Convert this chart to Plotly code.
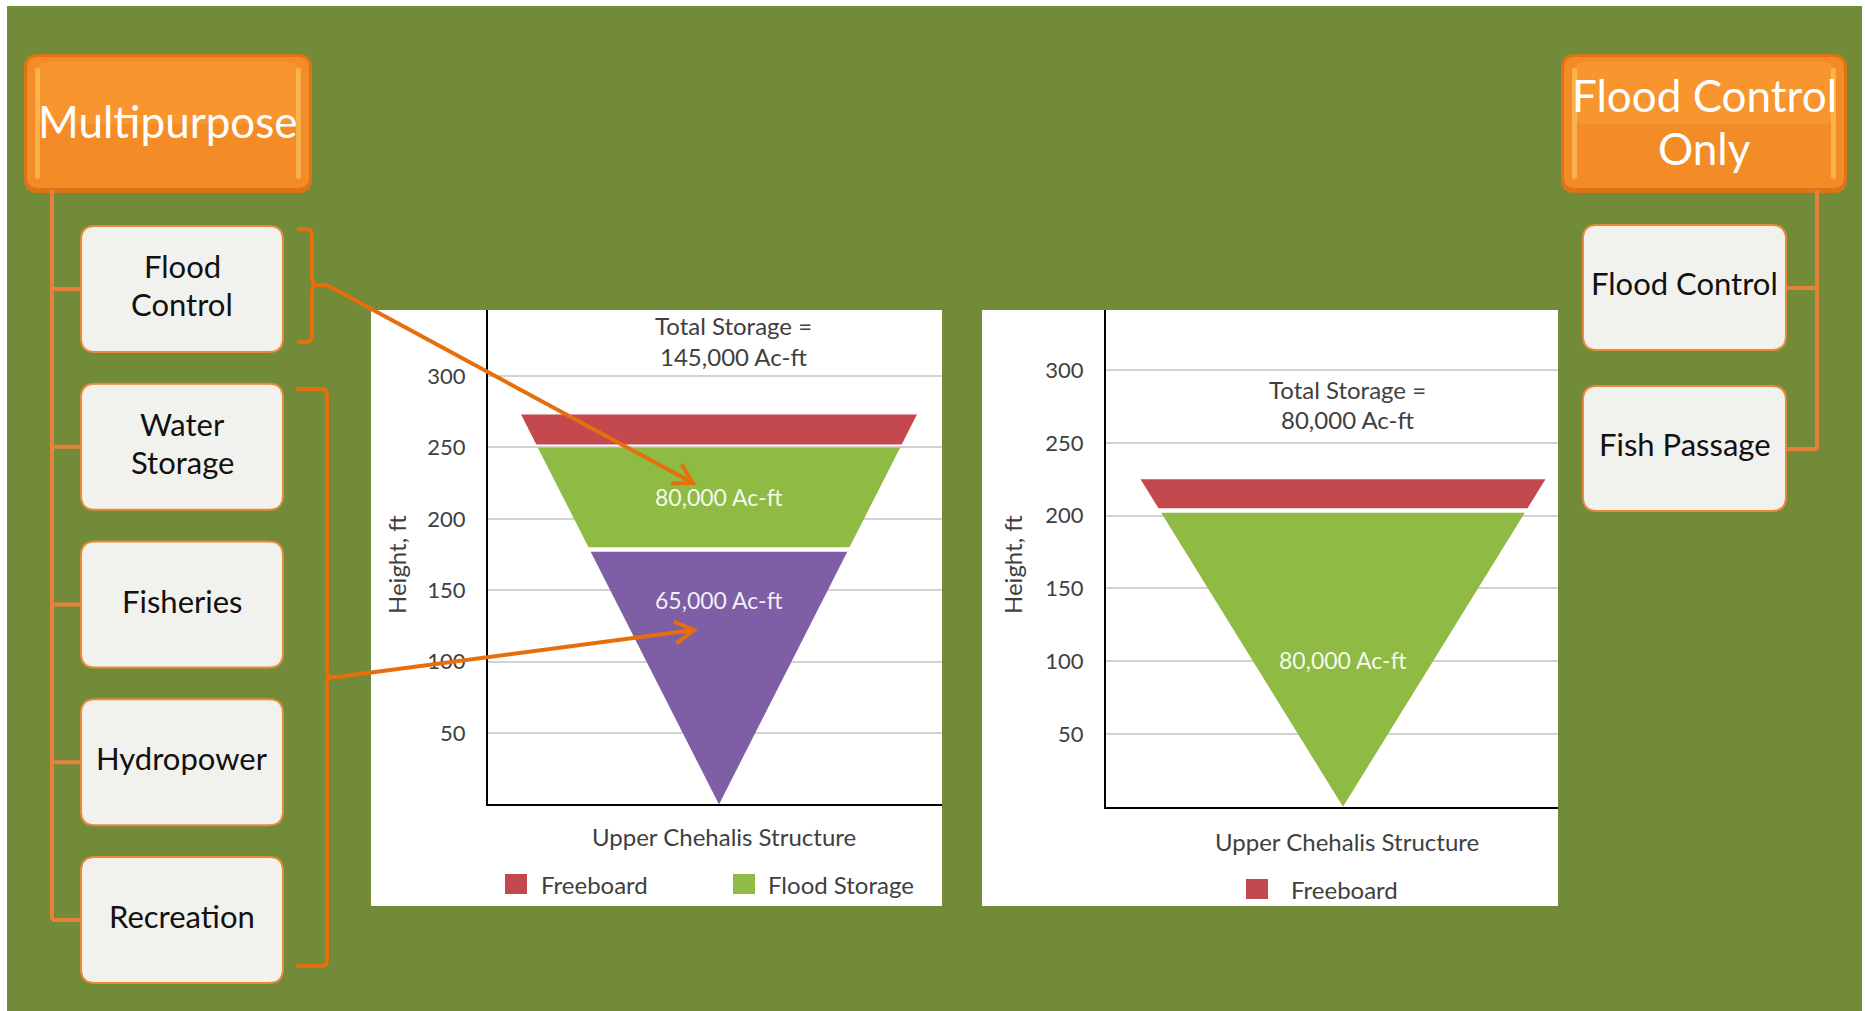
import math
import plotly.graph_objects as go

# ---------------- data ----------------
height_ticks = [50, 100, 150, 200, 250, 300]

# Multipurpose dam: storage zones by elevation (ft)
multi_zones = ["Freeboard", "Flood Storage", "Water Storage"]
multi_bottom = [252, 180, 0]
multi_top = [273, 250, 177]
multi_volumes = ["", "80,000 Ac-ft", "65,000 Ac-ft"]
multi_total = "145,000 Ac-ft"

# Flood-control-only dam: storage zones by elevation (ft)
flood_zones = ["Freeboard", "Flood Storage"]
flood_bottom = [205, 0]
flood_top = [225, 202]
flood_volumes = ["", "80,000 Ac-ft"]
flood_total = "80,000 Ac-ft"

multipurpose_uses = ["Flood<br>Control", "Water<br>Storage", "Fisheries", "Hydropower", "Recreation"]
flood_only_uses = ["Flood Control", "Fish Passage"]
structure_name = "Upper Chehalis Structure"

# ---------------- styling ----------------
W, H = 1865, 1011
FONT = "Lato"
BG_GREEN = "#718B38"
ARROW = "#E66F0C"
CONNECT = "#E7813A"
TEXT_GRAY = "#404040"
ZONE_COLORS = {"Freeboard": "#C4494F", "Flood Storage": "#8FBB45", "Water Storage": "#7E5FA6"}


def fx(p):
    return p / W


def fy(p):
    return 1 - p / H


def pt(x, y):
    return f"{fx(x):.5f},{fy(y):.5f}"


def rrect_path(x0, y0, x1, y1, r):
    return (f"M{pt(x0 + r, y0)} L{pt(x1 - r, y0)} Q{pt(x1, y0)} {pt(x1, y0 + r)} "
            f"L{pt(x1, y1 - r)} Q{pt(x1, y1)} {pt(x1 - r, y1)} L{pt(x0 + r, y1)} "
            f"Q{pt(x0, y1)} {pt(x0, y1 - r)} L{pt(x0, y0 + r)} Q{pt(x0, y0)} {pt(x0 + r, y0)} Z")


shapes = []
annotations = []


def rect(x0, y0, x1, y1, color, layer="below"):
    shapes.append(dict(type="rect", xref="paper", yref="paper", x0=fx(x0), x1=fx(x1),
                       y0=fy(y1), y1=fy(y0), fillcolor=color, line=dict(width=0), layer=layer))


def path(d, color=None, fill=None, width=0, layer="above"):
    shapes.append(dict(type="path", xref="paper", yref="paper", path=d, layer=layer,
                       fillcolor=fill if fill else "rgba(0,0,0,0)",
                       line=dict(color=color if color else "rgba(0,0,0,0)", width=width)))


def seg(x0, y0, x1, y1, color, width):
    shapes.append(dict(type="line", xref="paper", yref="paper", x0=fx(x0), y0=fy(y0),
                       x1=fx(x1), y1=fy(y1), line=dict(color=color, width=width), layer="above"))


def text(x, y, s, size, color, xanchor="center", angle=0):
    annotations.append(dict(xref="paper", yref="paper", x=fx(x), y=fy(y), text=s,
                            showarrow=False, xanchor=xanchor, yanchor="middle", textangle=angle,
                            font=dict(family=FONT, size=size, color=color)))


def text_lines(x, y, s, size, color, spacing):
    # multi-line label with explicit line pitch, centred on (x, y)
    lines = s.split("<br>")
    first = y - spacing * (len(lines) - 1) / 2
    for k, line in enumerate(lines):
        text(x, first + k * spacing, line, size, color)


def arrow(x0, y0, x1, y1, length=22, spread=30):
    seg(x0, y0, x1, y1, ARROW, 4)
    back = math.atan2(y1 - y0, x1 - x0) + math.pi
    a1, a2 = back + math.radians(spread), back - math.radians(spread)
    p1 = (x1 + length * math.cos(a1), y1 + length * math.sin(a1))
    p2 = (x1 + length * math.cos(a2), y1 + length * math.sin(a2))
    path(f"M{pt(*p1)} L{pt(x1, y1)} L{pt(*p2)}", color=ARROW, width=4)


def bracket(xe, xv, xt, ytop, ymid, ybot, r=6):
    d = (f"M{pt(xe, ytop)} L{pt(xv - r, ytop)} Q{pt(xv, ytop)} {pt(xv, ytop + r)} "
         f"L{pt(xv, ymid - r)} Q{pt(xv, ymid)} {pt(xv + r, ymid)} L{pt(xt, ymid)} "
         f"M{pt(xv + r, ymid)} Q{pt(xv, ymid)} {pt(xv, ymid + r)} "
         f"L{pt(xv, ybot - r)} Q{pt(xv, ybot)} {pt(xv - r, ybot)} L{pt(xe, ybot)}")
    path(d, color=ARROW, width=4)


def header_box(x0, y0, x1, y1, label):
    path(rrect_path(x0, y0, x1, y1, 14), fill="#DE7418")
    path(rrect_path(x0 + 3, y0 + 3, x1 - 3, y1 - 5, 11), fill="#F38C27")
    path(rrect_path(x0 + 14, y0 + 8, x1 - 14, y0 + 70, 9), fill="rgba(255,165,60,0.35)")
    path(rrect_path(x0 + 11, y0 + 14, x0 + 16, y1 - 14, 2), fill="rgba(255,225,120,0.45)")
    path(rrect_path(x1 - 16, y0 + 14, x1 - 11, y1 - 14, 2), fill="rgba(255,225,120,0.45)")
    text_lines((x0 + x1) / 2, (y0 + y1) / 2 - 2, label, 44, "white", 53)


def use_box(x0, y0, x1, y1, label):
    path(rrect_path(x0, y0, x1, y1, 14), fill="#F1F2EE", color="#E98A3A", width=2)
    text_lines((x0 + x1) / 2, (y0 + y1) / 2 - 4, label, 31, "#111111", 38)


# background
rect(7, 6, 1862, 1011, BG_GREEN)

# ---------------- charts ----------------
panels = [
    dict(zones=multi_zones, bottom=multi_bottom, top=multi_top, volumes=multi_volumes,
         total=multi_total, left=488, right=942, ptop=310, base=804.4, center=719,
         kx=0.725, ky=1.428, card=(371, 310, 942, 906),
         label_h={"Flood Storage": 215, "Water Storage": 143},
         total_xy=(733, 341), ytitle_x=396, xtitle=(724, 836),
         legend=[(505, 539, 884), (733, 766, 884)]),
    dict(zones=flood_zones, bottom=flood_bottom, top=flood_top, volumes=flood_volumes,
         total=flood_total, left=1106, right=1558, ptop=310, base=806.8, center=1343,
         kx=0.9, ky=1.456, card=(982, 310, 1558, 906),
         label_h={"Flood Storage": 101},
         total_xy=(1347, 404), ytitle_x=1012, xtitle=(1347, 841),
         legend=[(1246, 1289, 889)]),
]

fig = go.Figure()
layout_axes = {}
for i, p in enumerate(panels, start=1):
    xa, ya = ("x", "y") if i == 1 else (f"x{i}", f"y{i}")
    rect(*p["card"], "white")
    for zone, b, t, vol in zip(p["zones"], p["bottom"], p["top"], p["volumes"]):
        fig.add_trace(go.Scatter(
            x=[-t, t, b, -b, -t], y=[t, t, b, b, t], mode="lines", fill="toself",
            fillcolor=ZONE_COLORS[zone], line=dict(width=0), hoverinfo="skip",
            showlegend=False, xaxis=xa, yaxis=ya))
        if vol:
            annotations.append(dict(xref=xa, yref=ya, x=0, y=p["label_h"][zone], text=vol,
                                    showarrow=False, font=dict(family=FONT, size=23,
                                                               color="rgba(255,255,255,0.92)")))
    xr = [-(p["center"] - p["left"]) / p["kx"], (p["right"] - p["center"]) / p["kx"]]
    yr = [0, (p["base"] - p["ptop"]) / p["ky"]]
    key = "" if i == 1 else str(i)
    layout_axes["xaxis" + key] = dict(
        domain=[fx(p["left"]), fx(p["right"])], range=xr, anchor=ya, showgrid=False,
        zeroline=False, showticklabels=False, ticks="", showline=True, linecolor="black",
        linewidth=2, fixedrange=True)
    layout_axes["yaxis" + key] = dict(
        domain=[fy(p["base"]), fy(p["ptop"])], range=yr, anchor=xa, tickvals=height_ticks,
        showgrid=True, gridcolor="#D2D2D2", gridwidth=1.5, zeroline=False, showline=True,
        linecolor="black", linewidth=2, ticks="", ticklabelstandoff=16,
        tickfont=dict(family=FONT, size=22, color=TEXT_GRAY), fixedrange=True)
    tx, ty = p["total_xy"]
    text_lines(tx, ty, "Total Storage =<br>" + p["total"], 24, TEXT_GRAY, 30)
    text(p["ytitle_x"], 565, "Height, ft", 24, TEXT_GRAY, angle=-90)
    text(p["xtitle"][0], p["xtitle"][1], structure_name, 24, TEXT_GRAY)
    for zone, (sx, tx2, ly) in zip(p["zones"], p["legend"]):
        rect(sx, ly - 10, sx + 22, ly + 10, ZONE_COLORS[zone], layer="above")
        text(tx2, ly, zone, 24, TEXT_GRAY, xanchor="left")

# ---------------- left hierarchy: Multipurpose ----------------
header_box(24, 54, 312, 193, "Multipurpose")
left_tops = [226 + k * 157.75 for k in range(len(multipurpose_uses))]
seg(52, 190, 52, left_tops[-1] + 63, CONNECT, 4)
for top, label in zip(left_tops, multipurpose_uses):
    seg(52, top + 63, 82, top + 63, CONNECT, 4)
    use_box(81, top, 283, top + 126, label)

# ---------------- right hierarchy: Flood Control Only ----------------
header_box(1561, 54, 1847, 193, "Flood Control<br>Only")
right_tops = [225 + k * 161 for k in range(len(flood_only_uses))]
seg(1817, 190, 1817, right_tops[-1] + 63, CONNECT, 4)
for top, label in zip(right_tops, flood_only_uses):
    seg(1785, top + 63, 1817, top + 63, CONNECT, 4)
    use_box(1583, top, 1786, top + 125, label)

# ---------------- brackets and arrows ----------------
bracket(297, 312, 327, 229, 285, 342)
arrow(327, 285, 693, 483)
bracket(296, 327, 337, 389, 677, 966)
arrow(337, 677, 694, 630)

fig.update_layout(
    width=W, height=H, margin=dict(l=0, r=0, t=0, b=0),
    paper_bgcolor="white", plot_bgcolor="rgba(0,0,0,0)",
    shapes=shapes, annotations=annotations, showlegend=False,
    font=dict(family=FONT), **layout_axes)

fig.write_html("out.html", config={"displayModeBar": False})
